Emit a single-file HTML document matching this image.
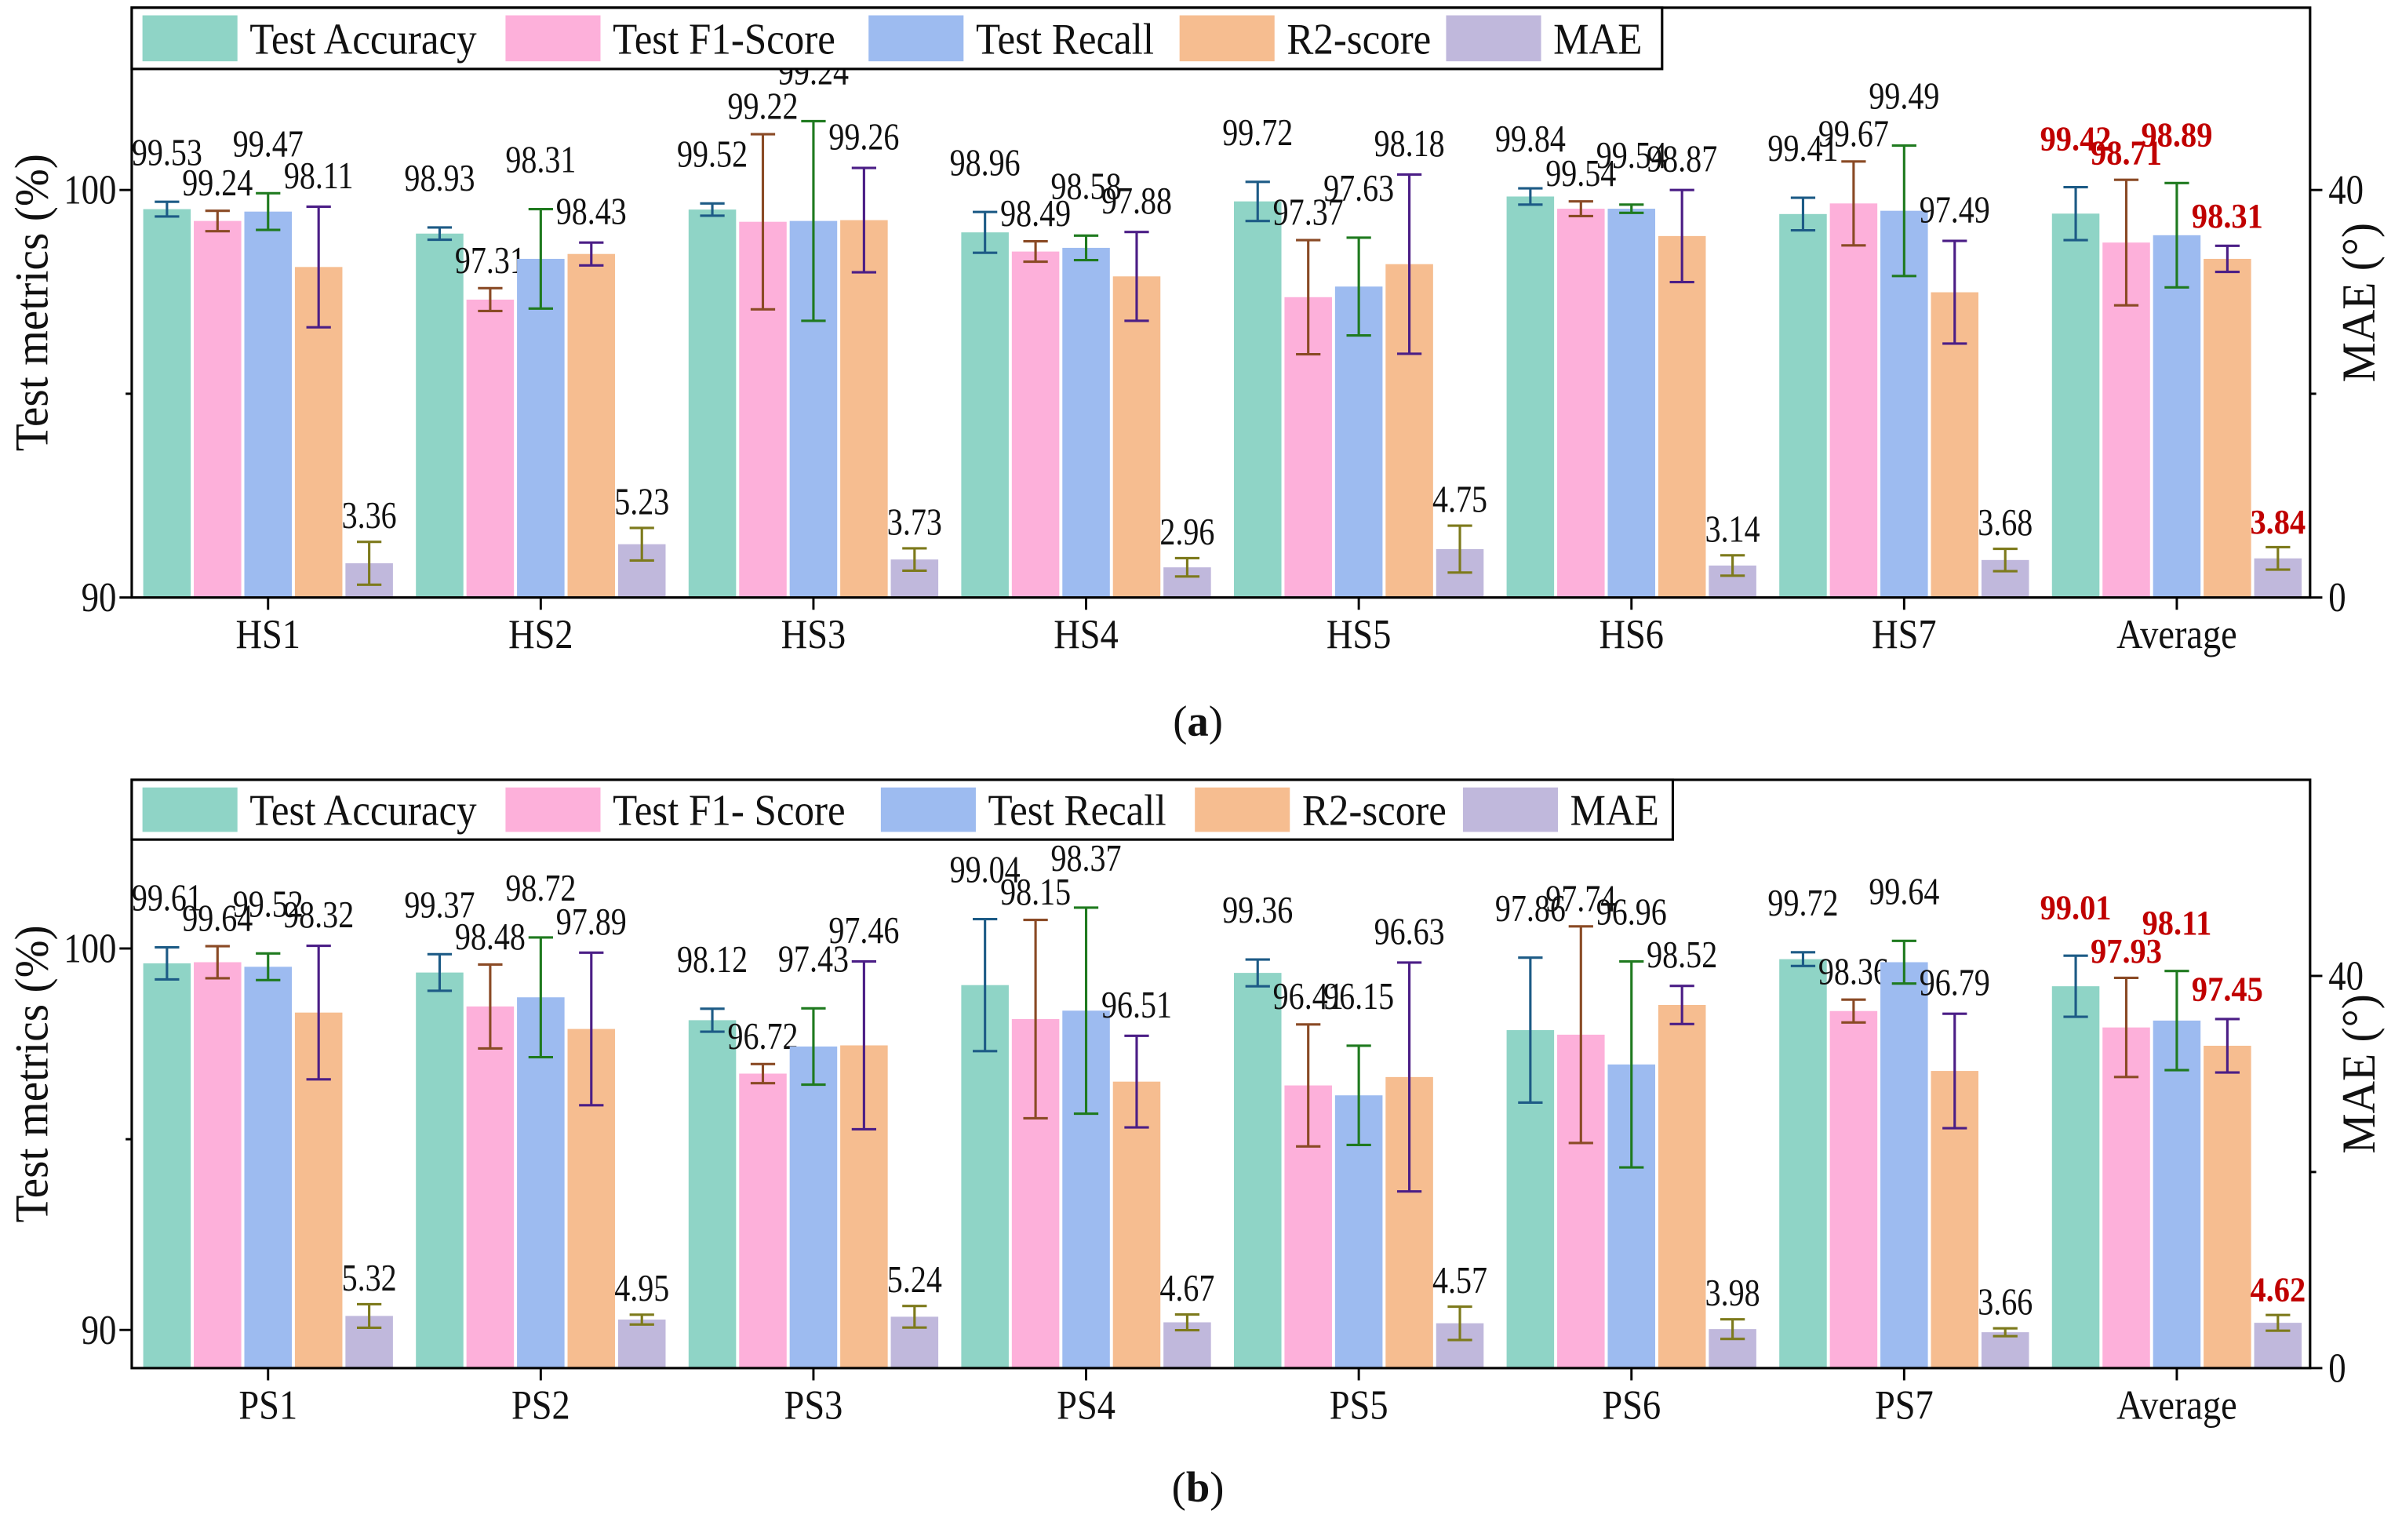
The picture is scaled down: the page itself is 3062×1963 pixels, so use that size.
<!DOCTYPE html>
<html><head><meta charset="utf-8"><style>
html,body{margin:0;padding:0;background:#fff;}
svg{display:block;font-family:"Liberation Serif",serif;}
</style></head><body>
<svg id="fig" width="3062" height="1963" viewBox="0 0 1568 1005.2" xmlns="http://www.w3.org/2000/svg"></svg>
<script>
const seriesNames = ["Test Accuracy","Test F1-Score","Test Recall","R2-score","MAE"];
const seriesNamesB = ["Test Accuracy","Test F1- Score","Test Recall","R2-score","MAE"];
const catsA = ["HS1","HS2","HS3","HS4","HS5","HS6","HS7","Average"];
const catsB = ["PS1","PS2","PS3","PS4","PS5","PS6","PS7","Average"];
const accA = [99.53,98.93,99.52,98.96,99.72,99.84,99.41,99.42];
const f1A = [99.24,97.31,99.22,98.49,97.37,99.54,99.67,98.71];
const recA = [99.47,98.31,99.24,98.58,97.63,99.54,99.49,98.89];
const r2A = [98.11,98.43,99.26,97.88,98.18,98.87,97.49,98.31];
const maeA = [3.36,5.23,3.73,2.96,4.75,3.14,3.68,3.84];
const accErrA = [0.18,0.15,0.15,0.5,0.48,0.2,0.4,0.65];
const f1ErrA = [0.25,0.28,2.15,0.25,1.4,0.18,1.03,1.54];
const recErrA = [0.45,1.22,2.45,0.3,1.2,0.1,1.6,1.28];
const r2ErrA = [1.48,0.28,1.28,1.09,2.2,1.13,1.26,0.32];
const maeErrA = [2.1,1.6,1.1,0.9,2.3,1.0,1.1,1.1];
const accB = [99.61,99.37,98.12,99.04,99.36,97.86,99.72,99.01];
const f1B = [99.64,98.48,96.72,98.15,96.41,97.74,98.36,97.93];
const recB = [99.52,98.72,97.43,98.37,96.15,96.96,99.64,98.11];
const r2B = [98.32,97.89,97.46,96.51,96.63,98.52,96.79,97.45];
const maeB = [5.32,4.95,5.24,4.67,4.57,3.98,3.66,4.62];
const accErrB = [0.42,0.48,0.3,1.73,0.35,1.9,0.18,0.8];
const f1ErrB = [0.42,1.1,0.25,2.6,1.6,2.84,0.3,1.3];
const recErrB = [0.35,1.57,1.0,2.7,1.3,2.7,0.56,1.3];
const r2ErrB = [1.75,2.0,2.2,1.2,3.0,0.5,1.5,0.7];
const maeErrB = [1.2,0.5,1.1,0.8,1.7,1.0,0.4,0.8];
const leftTicks = [90,100];
const rightTicks = [0,40];

const NS="http://www.w3.org/2000/svg";
const svg=document.getElementById('fig');
function mk(tag,attrs,parent){const e=document.createElementNS(NS,tag);for(const k in attrs)e.setAttribute(k,attrs[k]);(parent||svg).appendChild(e);return e;}
function txt(parent,x,y,str,size,opts){
  opts=opts||{};
  const sx=opts.sx||0.84;
  const t=mk('text',{x:0,y:0,transform:`translate(${x} ${y}) scale(${sx} 1)`,'text-anchor':opts.anchor||'middle','font-size':size,'font-weight':opts.bold?'bold':'normal',fill:opts.fill||'#111'},parent);
  t.textContent=str;
  return t;
}
const fills=["#8fd4c6","#fdb0da","#9dbbf0","#f6bd90","#c0b8dc"];
const errCols=["#1d5b86","#8a4a25","#1f7a1f","#4b1e86","#7d7a1c"];
const labOff=[24,10,24,12,9];

function panel(p){
  const g=mk('g',{});
  
  
  const yL=v=>p.bottom-(v-p.lMin)*p.lScale;
  const yR=v=>p.bottom-v*p.rScale;
  const xC=i=>175+i*178;
  const vals=[p.acc,p.f1,p.rec,p.r2,p.mae], errs=[p.accE,p.f1E,p.recE,p.r2E,p.maeE];
  for(let i=0;i<p.cats.length;i++){
    for(let s=0;s<5;s++){
      const isR=s===4, v=vals[s][i], e=errs[s][i];
      const y=isR?yR(v):yL(v);
      const cx=xC(i)+(s-2)*33;
      const r=mk('rect',{x:cx-15.5,y:y,width:31,height:p.bottom-y,fill:fills[s]},g);
      
      
      const yt=isR?yR(v+e):yL(v+e), yb=isR?yR(v-e):yL(v-e);
      const eb=mk('path',{d:`M${cx} ${yt}V${yb}M${cx-8} ${yt}H${cx+8}M${cx-8} ${yb}H${cx+8}`,stroke:errCols[s],'stroke-width':1.6,fill:'none'},g);
      
      
      const avg=i===p.cats.length-1;
      const t=txt(g,cx,yt-labOff[s],v.toFixed(2),avg?23:25,{bold:avg,fill:avg?'#c00000':'#111',sx:avg?0.9:0.82});
      
      
    }
    mk('line',{x1:xC(i),x2:xC(i),y1:p.bottom,y2:p.bottom+8,stroke:'#000','stroke-width':1.5},g);
    const ct=txt(g,xC(i),p.bottom+33,p.cats[i],27,{sx:0.88});
    
    
  }
  const fr=mk('rect',{x:86,y:p.top,width:1422,height:p.bottom-p.top,fill:'none',stroke:'#000','stroke-width':1.6},g);
  
  
  leftTicks.forEach(v=>{
    mk('line',{x1:78,x2:86,y1:yL(v),y2:yL(v),stroke:'#000','stroke-width':1.5},g);
    const t=txt(g,76,yL(v)+9,String(v),27,{anchor:'end',sx:0.85});
    
    
  });
  mk('line',{x1:82,x2:86,y1:yL(95),y2:yL(95),stroke:'#000','stroke-width':1.5},g);
  rightTicks.forEach(v=>{
    mk('line',{x1:1508,x2:1516,y1:yR(v),y2:yR(v),stroke:'#000','stroke-width':1.5},g);
    const t=txt(g,1520,yR(v)+9,String(v),27,{anchor:'start',sx:0.85});
    
    
  });
  mk('line',{x1:1508,x2:1512,y1:yR(20),y2:yR(20),stroke:'#000','stroke-width':1.5},g);
  const mid=(p.top+p.bottom)/2;
  const yt=mk('text',{x:0,y:0,transform:`translate(31 ${mid}) rotate(-90) scale(0.95 1)`,'text-anchor':'middle','font-size':31,fill:'#111'},g);
  yt.textContent='Test metrics (%)';
  
  
  const rt=mk('text',{x:0,y:0,transform:`translate(1550 ${mid}) rotate(-90) scale(0.95 1)`,'text-anchor':'middle','font-size':31,fill:'#111'},g);
  rt.textContent='MAE (°)';
  
  
  const lg=mk('g',{},g);
  
  
  mk('rect',{x:86,y:p.top,width:p.legW,height:p.legH,fill:'#fff',stroke:'#000','stroke-width':1.6},lg);
  for(let s=0;s<5;s++){
    mk('rect',{x:p.legX[s],y:p.top+5,width:62,height:p.legH-10,fill:fills[s]},lg);
    const t=txt(lg,p.legX[s]+70,p.top+p.legH/2+10,p.names[s],29,{anchor:'start',sx:0.9});
    
    
  }
  const cap=mk('text',{x:782,y:p.capY,'text-anchor':'middle','font-size':28,fill:'#111'},g);
  cap.innerHTML='(<tspan font-weight="bold">'+p.id+'</tspan>)';
  
  
}
panel({id:'a',top:5,bottom:390,lMin:90,lScale:26.6,rScale:6.65,cats:catsA,names:seriesNames,
  acc:accA,f1:f1A,rec:recA,r2:r2A,mae:maeA,accE:accErrA,f1E:f1ErrA,recE:recErrA,r2E:r2ErrA,maeE:maeErrA,
  legW:999,legH:40,legX:[93,330,567,770,944],capY:480});
panel({id:'b',top:509,bottom:893,lMin:89,lScale:24.9,rScale:6.4,cats:catsB,names:seriesNamesB,
  acc:accB,f1:f1B,rec:recB,r2:r2B,mae:maeB,accE:accErrB,f1E:f1ErrB,recE:recErrB,r2E:r2ErrB,maeE:maeErrB,
  legW:1006,legH:39,legX:[93,330,575,780,955],capY:980});
</script>
</body></html>
